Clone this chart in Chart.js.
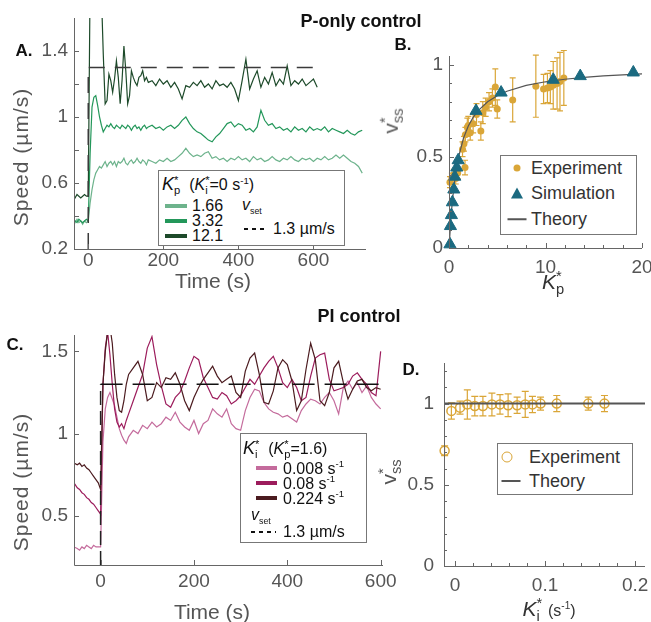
<html>
  <head>
    <meta charset="utf-8">
    <title>Speed control figure</title>
    <script src="https://cdn.jsdelivr.net/npm/chart.js"></script>
    <style>
      body { margin: 0; background: #fff; font-family: "Liberation Sans", Arial, sans-serif; }
      #fig { position: relative; width: 651px; height: 622px; overflow: hidden; }
      canvas { position: absolute; left: 0; top: 0; }
      .c { position: absolute; transform: translate(-50%, -50%); line-height: 1; white-space: nowrap; }
      .ttl { font-size: 18px; font-weight: bold; color: #111; }
      .pl { font-size: 17px; font-weight: bold; color: #111; }
      .ax { font-size: 21px; color: #555; }
      .sp { letter-spacing: 1px; }
      .rot { transform: translate(-50%, -50%) rotate(-90deg); }
      .stk { display: inline-block; vertical-align: -0.35em; font-size: 0.7em; line-height: 0.9; text-align: left; font-style: normal; }
      .stk span { display: block; }
      .lt { position: absolute; transform: translateY(-50%); line-height: 1; white-space: nowrap; color: #111; font-size: 16px; }
      .lt sup { font-size: 0.6em; }
      .lt sub { font-size: 0.55em; }
      .box { position: absolute; border: 1px solid #777; background: #fff; box-sizing: border-box; }
      .sw { position: absolute; height: 4px; margin-top: -2px; }
      .dash { position: absolute; height: 2px; margin-top: -1px; background: repeating-linear-gradient(to right, #111 0 4px, transparent 4px 8px); }
      .mk { position: absolute; transform: translate(-50%, -50%); }
    </style>
  </head>
  <body>
  <div id="fig">
    <canvas id="chartA" width="651" height="622"></canvas>
    <canvas id="chartB" width="651" height="622"></canvas>
    <canvas id="chartC" width="651" height="622"></canvas>
    <canvas id="chartD" width="651" height="622"></canvas>

    <div class="c ttl" style="left:361px;top:21px">P-only control</div>
    <div class="c ttl" style="left:359px;top:316px">PI control</div>
    <div class="c pl" style="left:24px;top:50px">A.</div>
    <div class="c pl" style="left:403px;top:44px">B.</div>
    <div class="c pl" style="left:15px;top:344px">C.</div>
    <div class="c pl" style="left:411px;top:369px">D.</div>

    <div class="c ax" style="left:213px;top:280px">Time (s)</div>
    <div class="c ax rot sp" style="left:20px;top:157px">Speed (µm/s)</div>
    <div class="c ax" style="left:212px;top:611px">Time (s)</div>
    <div class="c ax rot sp" style="left:20px;top:482px">Speed (µm/s)</div>
    <div class="c ax rot" style="left:392px;top:121px">v<span class="stk"><span>*</span><span>ss</span></span></div>
    <div class="c ax" style="left:553px;top:283px;color:#333"><i>K</i><span class="stk"><span>*</span><span>p</span></span></div>
    <div class="c ax rot" style="left:390px;top:472px">v<span class="stk"><span>*</span><span>ss</span></span></div>
    <div class="c ax" style="left:549px;top:610px;color:#333"><i>K</i><span class="stk"><span>*</span><span>i</span></span> <span style="font-size:16px">(s<sup style="font-size:10px">-1</sup>)</span></div>

    <!-- legend A -->
    <div class="box" style="left:158px;top:170px;width:187px;height:76px"></div>
    <div class="lt" style="left:162px;top:185px"><i style="font-size:18px">K</i><span class="stk"><span>*</span><span>p</span></span>&nbsp;&nbsp;(<i>K</i><span class="stk"><span>*</span><span>i</span></span>=0 s<sup>-1</sup>)</div>
    <div class="sw" style="left:165px;top:206px;width:22px;background:#6db38c"></div>
    <div class="lt" style="left:192px;top:206px">1.66</div>
    <div class="sw" style="left:165px;top:221px;width:22px;background:#23975a"></div>
    <div class="lt" style="left:192px;top:221px">3.32</div>
    <div class="sw" style="left:165px;top:236px;width:22px;background:#1d4a2a"></div>
    <div class="lt" style="left:192px;top:236px">12.1</div>
    <div class="lt" style="left:242px;top:206px"><i>v</i><sub>set</sub></div>
    <div class="dash" style="left:244px;top:229px;width:22px"></div>
    <div class="lt" style="left:273px;top:229px">1.3 µm/s</div>

    <!-- legend C -->
    <div class="box" style="left:240px;top:433px;width:127px;height:110px"></div>
    <div class="lt" style="left:243px;top:449px"><i style="font-size:18px">K</i><span class="stk"><span>*</span><span>i</span></span>&nbsp;&nbsp;(<i>K</i><span class="stk"><span>*</span><span>p</span></span>=1.6)</div>
    <div class="sw" style="left:256px;top:468px;width:21px;background:#c46b9c"></div>
    <div class="lt" style="left:283px;top:468px">0.008 s<sup>-1</sup></div>
    <div class="sw" style="left:256px;top:483px;width:21px;background:#9c1c5c"></div>
    <div class="lt" style="left:283px;top:483px">0.08 s<sup>-1</sup></div>
    <div class="sw" style="left:256px;top:498px;width:21px;background:#4b1b1f"></div>
    <div class="lt" style="left:283px;top:498px">0.224 s<sup>-1</sup></div>
    <div class="lt" style="left:251px;top:516px"><i>v</i><sub>set</sub></div>
    <div class="dash" style="left:251px;top:532px;width:25px"></div>
    <div class="lt" style="left:283px;top:532px">1.3 µm/s</div>

    <!-- legend B -->
    <div class="box" style="left:500px;top:155px;width:137px;height:80px"></div>
    <div class="mk" style="left:517px;top:168px;width:7px;height:7px;border-radius:50%;background:#daa638"></div>
    <div class="lt" style="left:531px;top:168px;font-size:18px;color:#333">Experiment</div>
    <div class="mk" style="left:517px;top:193px;width:0;height:0;border-left:6px solid transparent;border-right:6px solid transparent;border-bottom:11px solid #1b6a80"></div>
    <div class="lt" style="left:531px;top:193px;font-size:18px;color:#333">Simulation</div>
    <div class="mk" style="left:517px;top:219px;width:19px;height:1.5px;background:#555"></div>
    <div class="lt" style="left:531px;top:219px;font-size:18px;color:#333">Theory</div>

    <!-- legend D -->
    <div class="box" style="left:497px;top:443px;width:136px;height:52px"></div>
    <div class="mk" style="left:507px;top:457px;width:9px;height:9px;border-radius:50%;border:1.5px solid #daa638"></div>
    <div class="lt" style="left:529px;top:457px;font-size:18px;color:#333">Experiment</div>
    <div class="mk" style="left:511px;top:481px;width:19px;height:2px;background:#555"></div>
    <div class="lt" style="left:529px;top:481px;font-size:18px;color:#333">Theory</div>
  </div>

  <script>
    // ---------- A: P-only control time traces ----------
    const tA = [-38,-35,-30,-25,-20,-15,-10,-5,0,
      5,10,15,20,25,30,35,40,45,50,55,60,65,70,75,80,85,90,95,100,
      105,110,115,120,125,130,135,140,145,150,155,160,
      170,180,190,200,210,220,230,240,250,260,
      270,280,290,300,310,320,330,340,350,360,
      370,380,390,400,410,420,430,440,450,460,
      470,480,490,500,510,520,530,540,550,560,
      570,580,590,600,610,620,630,640,650,660,
      670,680,690,700,710,720,730];
    const kp166 = [0.37,0.36,0.38,0.36,0.37,0.35,0.37,0.36,0.37,
      0.48,0.56,0.62,0.66,0.68,0.70,0.69,0.71,0.73,0.70,0.72,0.73,0.71,0.73,0.70,0.73,0.72,0.73,0.75,0.72,
      0.71,0.73,0.74,0.72,0.73,0.75,0.73,0.72,0.74,0.73,0.71,0.74,
      0.73,0.72,0.74,0.73,0.75,0.73,0.74,0.76,0.78,0.81,
      0.78,0.76,0.77,0.76,0.78,0.79,0.75,0.76,0.74,0.75,
      0.73,0.75,0.74,0.76,0.74,0.75,0.73,0.76,0.74,0.75,
      0.73,0.74,0.76,0.74,0.73,0.75,0.74,0.76,0.74,0.73,
      0.75,0.74,0.75,0.73,0.75,0.74,0.76,0.74,0.75,0.77,
      0.75,0.77,0.75,0.73,0.72,0.70,0.66];
    const kp332 = [0.38,0.37,0.36,0.38,0.37,0.36,0.37,0.38,0.37,
      0.78,1.06,1.12,1.13,1.07,1.00,0.95,0.91,0.93,0.95,0.94,0.96,0.94,0.93,0.95,0.94,0.93,0.95,0.94,0.93,
      0.95,0.94,0.92,0.94,0.95,0.93,0.94,0.92,0.94,0.95,0.93,0.94,
      0.95,0.93,0.94,0.92,0.94,0.95,0.93,0.95,0.98,1.00,
      0.96,0.93,0.91,0.90,0.88,0.86,0.85,0.88,0.90,0.93,
      0.96,0.97,0.94,0.96,0.95,0.92,0.93,0.91,0.94,1.04,
      0.98,0.95,0.96,0.93,0.94,0.92,0.93,0.91,0.94,0.92,
      0.93,0.91,0.94,0.92,0.93,0.92,0.94,0.91,0.93,0.92,
      0.91,0.90,0.92,0.90,0.89,0.91,0.92];
    const kp121 = [0.52,0.51,0.53,0.52,0.51,0.52,0.53,0.52,0.52,
      1.85,1.90,1.90,1.90,1.90,1.90,1.75,1.38,1.08,1.10,1.26,1.22,1.15,1.23,1.34,1.24,1.08,1.22,1.43,1.28,
      1.08,1.13,1.28,1.24,1.21,1.19,1.24,1.25,1.28,1.22,1.24,1.21,
      1.22,1.19,1.23,1.20,1.22,1.18,1.21,1.17,1.11,1.19,
      1.18,1.21,1.19,1.22,1.18,1.20,1.17,1.22,1.19,1.20,
      1.18,1.21,1.17,1.10,1.22,1.35,1.17,1.23,1.28,1.18,
      1.24,1.20,1.27,1.19,1.23,1.20,1.31,1.19,1.22,1.20,
      1.23,1.19,1.21,1.23,1.18];
    const setA_t = [0, 0, 610];
    const setA_v = [0.2, 1.3, 1.3];
    const xTicksA = [0, 200, 400, 600];
    const xLabA = ['0', '200', '400', '600'];
    const yTicksA = [0.2, 0.4, 0.6, 0.8, 1, 1.2, 1.4];
    const yLabA = ['0.2', '', '0.6', '', '1', '', '1.4'];

    // ---------- B: steady state vs Kp ----------
    const expK = [0.1,0.3,0.5,0.7,0.9,1.4,1.55,1.66,1.7,1.9,2.0,2.2,2.5,2.85,3.3,3.5,3.8,4.15,4.5,4.8,5.0,6.6,9.0,9.8,10.2,10.5,10.8,11.2,11.5,11.9];
    const expV = [0.36,0.38,0.40,0.38,0.41,0.54,0.57,0.44,0.62,0.66,0.67,0.63,0.68,0.73,0.64,0.74,0.77,0.80,0.82,0.88,0.76,0.81,0.885,0.87,0.875,0.88,0.89,0.90,0.91,0.93];
    const expErr = [0.03,0.03,0.03,0.03,0.03,0.04,0.04,0.04,0.04,0.05,0.05,0.04,0.05,0.06,0.05,0.06,0.05,0.05,0.05,0.10,0.05,0.12,0.17,0.08,0.08,0.09,0.13,0.14,0.16,0.15];
    const simK = [0.1,0.15,0.25,0.35,0.5,0.6,0.8,0.95,2.8,5.4,10.8,13.6,19.1];
    const simV = [0.02,0.12,0.18,0.25,0.32,0.39,0.44,0.48,0.75,0.85,0.92,0.94,0.96];
    const thK = [0,0.25,0.5,0.75,1,1.5,2,2.5,3,4,5,6,8,10,12,14,16,18,20];
    const thV = [0,0.2,0.333,0.429,0.5,0.6,0.667,0.714,0.75,0.8,0.833,0.857,0.889,0.909,0.923,0.933,0.941,0.947,0.952];
    const xTicksB = [0,2,4,6,8,10,12,14,16,18,20];
    const xLabB = ['0','','','','','10','','','','','20'];
    const yTicksB = [0,0.1,0.2,0.3,0.4,0.5,0.6,0.7,0.8,0.9,1];
    const yLabB = ['0','','','','','0.5','','','','','1'];

    // ---------- C: PI control time traces ----------
    const tC = [-57,-50,-45,-40,-35,-30,-25,-20,-15,-10,-5,0,
      5,10,15,20,25,30,35,40,45,50,55,60,
      70,80,90,100,110,120,130,140,150,160,
      170,180,190,200,210,220,230,240,250,260,
      270,280,290,300,310,320,330,340,350,360,
      370,380,390,400,410,420,430,440,450,460,
      470,480,490,500,510,520,530,540,550,560,
      570,580,590,600];
    const ki008 = [0.31,0.30,0.29,0.31,0.30,0.32,0.31,0.30,0.32,0.31,0.31,0.31,
      0.95,1.15,1.22,1.25,1.21,1.17,1.10,1.03,0.99,0.96,0.94,0.98,
      1.02,1.00,1.05,1.03,1.07,1.04,1.06,1.10,1.08,1.13,
      1.07,1.04,1.02,1.08,1.00,1.06,1.08,1.15,1.12,1.10,
      1.15,1.06,1.03,1.02,1.14,1.22,1.27,1.26,1.19,1.15,
      1.13,1.12,1.10,1.11,1.09,1.07,1.14,1.18,1.21,1.20,
      1.18,1.22,1.25,1.20,1.12,1.28,1.32,1.27,1.31,1.25,
      1.29,1.22,1.18,1.15];
    const ki08 = [0.70,0.67,0.66,0.64,0.63,0.61,0.60,0.58,0.57,0.55,0.53,0.51,
      1.30,1.52,1.62,1.48,1.30,1.15,1.07,1.04,1.06,1.03,1.08,1.12,
      1.20,1.28,1.36,1.52,1.59,1.42,1.29,1.18,1.16,1.22,
      1.25,1.32,1.40,1.47,1.45,1.34,1.28,1.22,1.21,1.25,
      1.23,1.18,1.20,1.23,1.28,1.33,1.30,1.35,1.40,1.44,
      1.47,1.40,1.31,1.28,1.33,1.28,1.20,1.22,1.35,1.46,
      1.48,1.49,1.33,1.26,1.27,1.28,1.30,1.35,1.37,1.33,
      1.30,1.25,1.23,1.50];
    const ki224 = [0.82,0.81,0.82,0.80,0.81,0.79,0.78,0.76,0.74,0.72,0.70,0.66,
      1.30,1.50,1.62,1.65,1.55,1.36,1.22,1.14,1.13,1.20,1.30,1.36,
      1.40,1.44,1.36,1.20,1.22,1.31,1.28,1.34,1.33,1.37,
      1.30,1.20,1.14,1.22,1.28,1.33,1.37,1.41,1.35,1.31,
      1.33,1.35,1.25,1.22,1.38,1.46,1.49,1.36,1.19,1.18,
      1.26,1.40,1.45,1.42,1.32,1.14,1.20,1.39,1.55,1.45,
      1.20,1.17,1.25,1.40,1.44,1.31,1.21,1.27,1.32,1.33,
      1.28,1.26,1.28,1.27];
    const setCv_t = [0, 0];
    const setCv_v = [0.2, 1.3];
    const setCh_t = [0, 600];
    const setCh_v = [1.3, 1.3];
    const xTicksC = [0, 200, 400, 600];
    const xLabC = ['0', '200', '400', '600'];
    const yTicksC = [0.5, 1, 1.5];
    const yLabC = ['0.5', '1', '1.5'];

    // ---------- D: steady state vs Ki ----------
    const expKi = [-0.0115,-0.004,0.0056,0.0137,0.022,0.031,0.041,0.050,0.059,0.069,0.078,0.086,0.095,0.113,0.148,0.166];
    const expVi = [0.71,0.955,0.975,0.995,0.985,0.985,0.995,0.995,0.99,0.99,0.995,0.995,1.0,1.0,1.0,1.0];
    const expErrI = [0.03,0.05,0.04,0.09,0.06,0.06,0.07,0.06,0.07,0.05,0.08,0.05,0.04,0.05,0.04,0.05];
    const thKi = [-0.0122, 0.211];
    const thVi = [1, 1];
    const xTicksD = [0,0.02,0.04,0.06,0.08,0.1,0.12,0.14,0.16,0.18,0.2];
    const xLabD = ['0','','','','','0.1','','','','','0.2'];
    const yTicksD = [0,0.1,0.2,0.3,0.4,0.5,0.6,0.7,0.8,0.9,1,1.1,1.2];
    const yLabD = ['0','','','','','0.5','','','','','1','',''];

    const W = 651, H = 622;
    const tickCol = '#555', axisCol = '#666';
    const gold = '#daa638', teal = '#1b6a80';
    Chart.defaults.font.family = '"Liberation Sans", Arial, sans-serif';

    function pts(xs, ys) {
      return ys.map((v, i) => ({ x: xs[i], y: v }));
    }

    // ticks point inward, axis lines only on left and bottom
    const inTicks = {
      id: 'inTicks',
      afterDraw(chart, args, opts) {
        const ctx = chart.ctx, a = chart.chartArea;
        const xs = chart.scales.x, ys = chart.scales.y;
        ctx.save();
        ctx.strokeStyle = axisCol;
        ctx.lineWidth = 1;
        ctx.beginPath();
        xs.ticks.forEach(t => {
          const p = Math.round(xs.getPixelForValue(t.value)) + 0.5;
          const len = t.label === '' ? opts.minor : opts.major;
          ctx.moveTo(p, a.bottom); ctx.lineTo(p, a.bottom - len);
        });
        ys.ticks.forEach(t => {
          const p = Math.round(ys.getPixelForValue(t.value)) + 0.5;
          const len = t.label === '' ? opts.minor : opts.major;
          ctx.moveTo(a.left, p); ctx.lineTo(a.left + len, p);
        });
        ctx.moveTo(a.left + 0.5, a.top);
        ctx.lineTo(a.left + 0.5, a.bottom + 0.5);
        ctx.lineTo(a.right, a.bottom + 0.5);
        ctx.stroke();
        ctx.restore();
      }
    };

    const errBars = {
      id: 'errBars',
      beforeDatasetsDraw(chart) {
        const ctx = chart.ctx, xs = chart.scales.x, ys = chart.scales.y;
        chart.data.datasets.forEach(ds => {
          if (!ds.err) return;
          ctx.save();
          ctx.strokeStyle = ds.borderColor;
          ctx.lineWidth = 1.2;
          ds.data.forEach((pt, i) => {
            const x = xs.getPixelForValue(pt.x);
            const y1 = ys.getPixelForValue(pt.y - ds.err[i]);
            const y2 = ys.getPixelForValue(pt.y + ds.err[i]);
            ctx.beginPath();
            ctx.moveTo(x, y1); ctx.lineTo(x, y2);
            ctx.moveTo(x - ds.cap, y1); ctx.lineTo(x + ds.cap, y1);
            ctx.moveTo(x - ds.cap, y2); ctx.lineTo(x + ds.cap, y2);
            ctx.stroke();
          });
          ctx.restore();
        });
      }
    };

    function makeChart(id, datasets, b) {
      const f = { size: 19, lineHeight: 1 };
      return new Chart(document.getElementById(id), {
        type: 'scatter',
        data: { datasets: datasets },
        options: {
          responsive: false,
          animation: false,
          events: [],
          layout: { padding: { left: b.left - 70, top: b.top, right: W - b.right, bottom: H - b.bottom - 40 } },
          plugins: {
            legend: { display: false },
            tooltip: { enabled: false },
            inTicks: { major: 5, minor: b.minor }
          },
          scales: {
            x: {
              type: 'linear', min: b.xMin, max: b.xMax,
              grid: { display: false, drawTicks: false }, border: { display: false },
              ticks: { autoSkip: false, maxRotation: 0, padding: b.xPad, color: tickCol, font: f,
                       callback: (v, i) => b.xLab[i] },
              afterBuildTicks: s => { s.ticks = b.xTicks.map(v => ({ value: v })); },
              afterFit: s => { s.height = 40; s.paddingLeft = 0; s.paddingRight = 0; }
            },
            y: {
              type: 'linear', min: b.yMin, max: b.yMax,
              grid: { display: false, drawTicks: false }, border: { display: false },
              ticks: { autoSkip: false, padding: b.yPad, color: tickCol, font: f,
                       callback: (v, i) => b.yLab[i] },
              afterBuildTicks: s => { s.ticks = b.yTicks.map(v => ({ value: v })); },
              afterFit: s => { s.width = 70; s.paddingTop = 0; s.paddingBottom = 0; }
            }
          }
        },
        plugins: [inTicks, errBars]
      });
    }

    const lineDs = (data, color, w, dash) => ({
      data: data, showLine: true, borderColor: color, borderWidth: w,
      borderDash: dash || [], pointRadius: 0, tension: 0
    });

    makeChart('chartA', [
      lineDs(pts(setA_t, setA_v), '#3a3a3a', 1.5, [16, 10]),
      lineDs(pts(tA, kp121), '#1d4a2a', 1.2),
      lineDs(pts(tA, kp332), '#23975a', 1.2),
      lineDs(pts(tA, kp166), '#6db38c', 1.2)
    ], { left: 74, right: 366, top: 18, bottom: 249, xMin: -38, xMax: 740, yMin: 0.2, yMax: 1.6,
         xTicks: xTicksA, xLab: xLabA, yTicks: yTicksA, yLab: yLabA, xPad: 2, yPad: 6, minor: 5 });

    makeChart('chartB', [
      { data: pts(simK, simV), pointStyle: 'triangle', pointRadius: 7, backgroundColor: teal, borderColor: teal, borderWidth: 1, clip: false },
      lineDs(pts(thK, thV), '#555', 1.2),
      { data: pts(expK, expV), err: expErr, cap: 3, pointRadius: 3.5, backgroundColor: gold, borderColor: gold, borderWidth: 0, clip: false }
    ], { left: 449, right: 642, top: 56, bottom: 248, xMin: 0, xMax: 20, yMin: 0, yMax: 1.05,
         xTicks: xTicksB, xLab: xLabB, yTicks: yTicksB, yLab: yLabB, xPad: 10, yPad: 6, minor: 3 });

    makeChart('chartC', [
      lineDs(pts(setCh_t, setCh_v), '#111', 1.6, [22, 10]),
      lineDs(pts(setCv_t, setCv_v), '#222', 1.5, [14, 6]),
      lineDs(pts(tC, ki224), '#4b1b1f', 1.2),
      lineDs(pts(tC, ki08), '#9c1c5c', 1.2),
      lineDs(pts(tC, ki008), '#c46b9c', 1.2)
    ], { left: 74, right: 383, top: 335, bottom: 565, xMin: -57, xMax: 605, yMin: 0.2, yMax: 1.6,
         xTicks: xTicksC, xLab: xLabC, yTicks: yTicksC, yLab: yLabC, xPad: 7, yPad: 6, minor: 5 });

    makeChart('chartD', [
      lineDs(pts(thKi, thVi), '#555', 2),
      { data: pts(expKi, expVi), err: expErrI, cap: 3.5, pointRadius: 4.5, backgroundColor: 'rgba(0,0,0,0)', borderColor: gold, borderWidth: 1.5, clip: false }
    ], { left: 444, right: 645, top: 363, bottom: 566, xMin: -0.0122, xMax: 0.211, yMin: 0, yMax: 1.25,
         xTicks: xTicksD, xLab: xLabD, yTicks: yTicksD, yLab: yLabD, xPad: 10, yPad: 10, minor: 3 });
  </script>
  </body>
</html>
